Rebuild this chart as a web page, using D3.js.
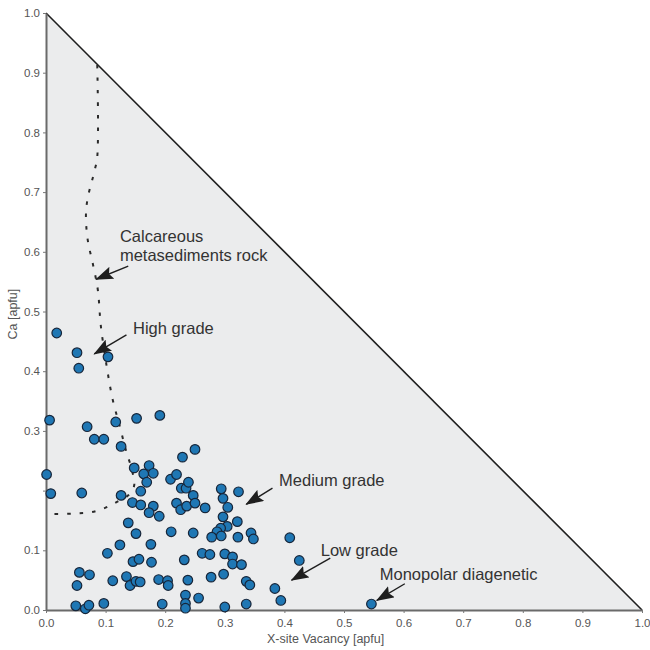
<!DOCTYPE html>
<head>
  <meta charset="utf-8">
  <script src="https://d3js.org/d3.v7.min.js"></script>
  <style>
    body { margin:0; background:#fff; }
    text { font-family: "Liberation Sans", Arial, sans-serif; }
  </style>
</head>

<body>
  <script>
    // tick values and labels (0.2 has no label on the y axis in the original)
    var xTicks = [0, 0.1, 0.2, 0.3, 0.4, 0.5, 0.6, 0.7, 0.8, 0.9, 1.0];
    var yTicks = [0, 0.1, 0.2, 0.3, 0.4, 0.5, 0.6, 0.7, 0.8, 0.9, 1.0];
    var yTickLabels = ["0.0", "0.1", "", "0.3", "0.4", "0.5", "0.6", "0.7", "0.8", "0.9", "1.0"];

    // X-site vacancy (apfu) and Ca (apfu) for each tourmaline analysis
    var vacancy = [
      0.018, 0.052, 0.055, 0.104, 0.006, 0.069, 0.081, 0.097, 0.117, 0.152,
      0.191, 0.126, 0.229, 0.250, 0.148, 0.173, 0.164, 0.180, 0.169, 0.209,
      0.219, 0.227, 0.235, 0.239, 0.247, 0.294, 0.323, 0.297, 0.159, 0.126,
      0.145, 0.159, 0.180, 0.173, 0.190, 0.219, 0.226, 0.236, 0.250, 0.267,
      0.305, 0.297, 0.321, 0.304, 0.293, 0.287, 0.294, 0.278, 0.322, 0.344,
      0.348, 0.138, 0.151, 0.210, 0.247, 0.124, 0.103, 0.176, 0.146, 0.156,
      0.177, 0.232, 0.262, 0.275, 0.300, 0.313, 0.313, 0.328, 0.298, 0.277,
      0.112, 0.135, 0.141, 0.151, 0.158, 0.189, 0.204, 0.205, 0.238, 0.336,
      0.342, 0.384, 0.394, 0.409, 0.425, 0.097, 0.195, 0.234, 0.234, 0.234,
      0.256, 0.300, 0.336, 0.546, 0.001, 0.008, 0.060, 0.056, 0.073, 0.052,
      0.050, 0.066, 0.072
    ];
    var calcium = [
      0.464, 0.431, 0.405, 0.424, 0.318, 0.307, 0.286, 0.286, 0.315, 0.321,
      0.326, 0.274, 0.256, 0.269, 0.238, 0.242, 0.228, 0.229, 0.214, 0.219,
      0.227, 0.204, 0.204, 0.214, 0.192, 0.203, 0.198, 0.187, 0.199, 0.192,
      0.180, 0.176, 0.174, 0.163, 0.157, 0.179, 0.168, 0.174, 0.179, 0.171,
      0.172, 0.156, 0.148, 0.140, 0.137, 0.131, 0.124, 0.122, 0.122, 0.129,
      0.119, 0.146, 0.128, 0.131, 0.129, 0.109, 0.095, 0.110, 0.081, 0.085,
      0.080, 0.084, 0.095, 0.093, 0.094, 0.089, 0.077, 0.076, 0.060, 0.055,
      0.049, 0.056, 0.041, 0.048, 0.047, 0.051, 0.049, 0.041, 0.050, 0.048,
      0.042, 0.036, 0.016, 0.121, 0.083, 0.011, 0.010, 0.025, 0.011, 0.003,
      0.020, 0.005, 0.010, 0.010, 0.227, 0.195, 0.196, 0.063, 0.059, 0.041,
      0.007, 0.002, 0.008
    ];

    // dashed field boundary
    var boundaryX = [0.086, 0.086, 0.081, 0.070, 0.067, 0.070, 0.079, 0.087, 0.092, 0.102,
                     0.112, 0.124, 0.134, 0.144, 0.148, 0.139, 0.119, 0.099, 0.077, 0.055, 0.034, 0.007];
    var boundaryY = [0.913, 0.759, 0.734, 0.690, 0.662, 0.620, 0.578, 0.536, 0.476, 0.407,
                     0.352, 0.307, 0.268, 0.235, 0.209, 0.193, 0.181, 0.171, 0.164, 0.162, 0.161, 0.161];

    // field annotations: label lines, label anchor, arrow tail and arrow tip (data units)
    var noteLines = [["Calcareous", "metasediments rock"], ["High grade"], ["Medium grade"], ["Low grade"], ["Monopolar diagenetic"]];
    var noteAt = [[0.124, 0.616], [0.146, 0.462], [0.391, 0.208], [0.461, 0.090], [0.560, 0.051]];
    var arrowFrom = [[0.138, 0.576], [0.135, 0.461], [0.380, 0.204], [0.477, 0.087], [0.602, 0.044]];
    var arrowTo = [[0.084, 0.554], [0.081, 0.429], [0.336, 0.177], [0.412, 0.050], [0.555, 0.016]];

    var width = 650, height = 650;
    var margin = { top: 13, right: 8, bottom: 40, left: 46 };

    var svg = d3.select("body").append("svg")
      .attr("width", width)
      .attr("height", height);

    var x = d3.scaleLinear().domain([0, 1]).range([margin.left, width - margin.right]);
    var y = d3.scaleLinear().domain([0, 1]).range([height - margin.bottom, margin.top]);

    // triangle field
    svg.append("path")
      .attr("d", "M" + x(0) + "," + y(0) + "L" + x(1) + "," + y(0) + "L" + x(0) + "," + y(1) + "Z")
      .attr("fill", "#ebeced");

    svg.append("line")
      .attr("x1", x(0)).attr("y1", y(1))
      .attr("x2", x(1)).attr("y2", y(0))
      .attr("stroke", "#1e1e1e")
      .attr("stroke-width", 1.6);

    // axes
    var xAxis = svg.append("g")
      .attr("transform", "translate(0," + y(0) + ")")
      .call(d3.axisBottom(x).tickValues(xTicks).tickSize(3).tickSizeOuter(0).tickFormat(d3.format(".1f")));
    var yAxis = svg.append("g")
      .attr("transform", "translate(" + x(0) + ",0)")
      .call(d3.axisLeft(y).tickValues(yTicks).tickSize(3).tickSizeOuter(0)
        .tickFormat(function(d, i) { return yTickLabels[i]; }));

    [xAxis, yAxis].forEach(function(g) {
      g.select(".domain").attr("stroke", "#6a6a6a").attr("stroke-width", 2);
      g.selectAll(".tick line").attr("stroke", "#777");
      g.selectAll(".tick text")
        .attr("fill", "#555")
        .style("font-size", "11.5px")
        .style("font-family", "'Liberation Sans', Arial, sans-serif");
    });
    xAxis.selectAll(".tick text").attr("dy", "0.95em");
    yAxis.selectAll(".tick text").attr("x", -6);

    svg.append("text")
      .attr("x", 267)
      .attr("y", y(0) + 33)
      .attr("fill", "#555")
      .style("font-size", "12.5px")
      .text("X-site Vacancy [apfu]");

    svg.append("text")
      .attr("transform", "translate(17," + (y(0.5) + 28) + ") rotate(-90)")
      .attr("fill", "#555")
      .style("font-size", "12.5px")
      .text("Ca [apfu]");

    // dashed boundary
    var boundary = boundaryX.map(function(d, i) { return [d, boundaryY[i]]; });
    svg.append("path")
      .datum(boundary)
      .attr("fill", "none")
      .attr("stroke", "#2a2a2a")
      .attr("stroke-width", 2)
      .attr("stroke-dasharray", "3.5,9")
      .attr("d", d3.line()
        .x(function(d) { return x(d[0]); })
        .y(function(d) { return y(d[1]); })
        .curve(d3.curveCatmullRom));

    // points
    svg.append("g").selectAll("circle")
      .data(vacancy)
      .enter()
      .append("circle")
      .attr("cx", function(d) { return x(d); })
      .attr("cy", function(d, i) { return y(calcium[i]); })
      .attr("r", 4.8)
      .attr("fill", "#1f77b4")
      .attr("stroke", "#17263a")
      .attr("stroke-width", 1.2);

    // annotations
    svg.append("defs").append("marker")
      .attr("id", "head")
      .attr("viewBox", "0 0 18 13")
      .attr("refX", 17).attr("refY", 6.5)
      .attr("markerUnits", "userSpaceOnUse")
      .attr("markerWidth", 18).attr("markerHeight", 13)
      .attr("orient", "auto")
      .append("path")
      .attr("d", "M0,0L18,6.5L0,13L3,6.5Z")
      .attr("fill", "#1e1e1e");

    noteLines.forEach(function(lines, i) {
      svg.append("line")
        .attr("x1", x(arrowFrom[i][0])).attr("y1", y(arrowFrom[i][1]))
        .attr("x2", x(arrowTo[i][0])).attr("y2", y(arrowTo[i][1]))
        .attr("stroke", "#1e1e1e")
        .attr("stroke-width", 1.4)
        .attr("marker-end", "url(#head)");

      var t = svg.append("text")
        .attr("x", x(noteAt[i][0]))
        .attr("y", y(noteAt[i][1]))
        .attr("fill", "#333")
        .style("font-size", "16.5px");
      lines.forEach(function(s, j) {
        t.append("tspan")
          .attr("x", x(noteAt[i][0]))
          .attr("dy", j === 0 ? 0 : 18.5)
          .text(s);
      });
    });
  </script>
</body>
